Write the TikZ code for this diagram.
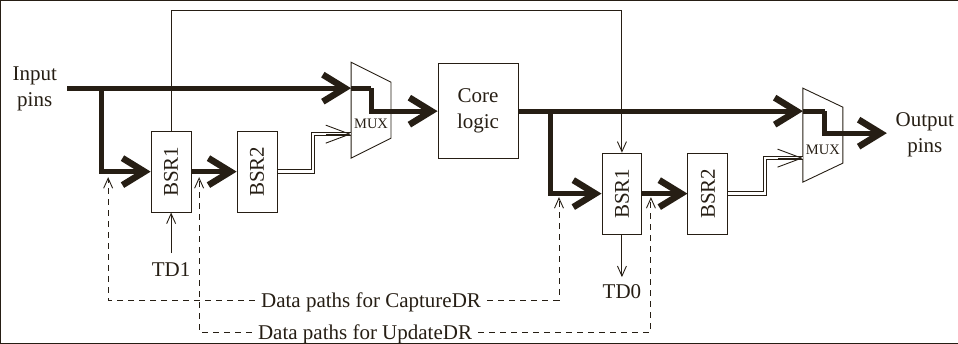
\documentclass[tikz,border=0pt]{standalone}
\usepackage{fontspec}
\setmainfont{Liberation Serif}
\usetikzlibrary{arrows.meta,calc}
\definecolor{ink}{RGB}{38,30,20}
\begin{document}
\begin{tikzpicture}[x=1pt,y=-1pt,
  every path/.style={draw=ink},
  lbl/.style={font=\fontsize{21}{26}\selectfont, text=ink, inner sep=0pt, align=center},
  blk/.style={draw=ink, line width=0.9pt, inner sep=0pt, minimum width=40pt, minimum height=81pt, font=\fontsize{21}{26}\selectfont, text=ink},
  muxlbl/.style={font=\fontsize{14.5}{16}\selectfont, text=ink, inner sep=0pt},
  dlbl/.style={font=\fontsize{21}{26}\selectfont, text=ink, inner ysep=0pt, inner xsep=6pt, text height=14pt, text depth=0pt},
  thk/.style={line width=5pt, -{Straight Barb[length=22pt,width=27pt,line width=6.5pt]}},
  thkplain/.style={line width=5pt},
  thn/.style={line width=0.9pt, -{Straight Barb[length=10pt,width=9pt,line width=0.9pt]}},
  thnplain/.style={line width=0.9pt},
  muxarr/.style={line width=0.9pt, -{Straight Barb[length=24pt,width=18pt,line width=0.9pt]}},
  dbl/.style={line width=0.9pt, double=white, double distance=2.6pt},
  dsh/.style={line width=0.9pt, dash pattern=on 6pt off 5pt, -{Straight Barb[length=10pt,width=9pt,line width=0.9pt]}}
]
\useasboundingbox (0,0) rectangle (958,343);

% labels
\node[lbl] (inp) at (34.5,89) {Input\\pins};
\node[lbl] (outp) at (925,135) {Output\\pins};

% blocks
\node[blk, align=center, minimum width=80pt, minimum height=95pt] (core) at (478,111) {Core\\logic};
\node[blk] (bsr1L) at (171,171.5) {\rotatebox{90}{BSR1}};
\node[blk] (bsr2L) at (257,171.5) {\rotatebox{90}{BSR2}};
\node[blk] (bsr1R) at (622,193.5) {\rotatebox{90}{BSR1}};
\node[blk] (bsr2R) at (708,193.5) {\rotatebox{90}{BSR2}};

% multiplexers
\coordinate (m1a) at (351,62);
\coordinate (m1b) at (391,82);
\coordinate (m1c) at (391,138);
\coordinate (m1d) at (351,158);
\draw[thnplain] (m1a) -- (m1b) -- (m1c) -- (m1d) -- cycle;
\node[muxlbl] (mux1) at (371,124) {MUX};
\coordinate (m2a) at (803,88);
\coordinate (m2b) at (843,107);
\coordinate (m2c) at (843,163);
\coordinate (m2d) at (803,182);
\draw[thnplain] (m2a) -- (m2b) -- (m2c) -- (m2d) -- cycle;
\node[muxlbl] (mux2) at (823,150) {MUX};

% coordinates
\coordinate (inS) at (67,88);
\coordinate (j1) at (101,88);
\coordinate (m1i1) at (351,88);
\coordinate (m1k1) at (371,88);
\coordinate (m1k2) at (371,111);
\coordinate (m1i2) at (351,134);
\coordinate (d1a) at (313,171.5);
\coordinate (d1b) at (313,134);
\coordinate (d1c) at (326,134);
\coordinate (j2) at (551,111);
\coordinate (m2i1) at (803,111);
\coordinate (m2k1) at (825,111);
\coordinate (m2k2) at (825,133);
\coordinate (outS) at (887,133);
\coordinate (m2i2) at (803,158);
\coordinate (d2a) at (765,193.5);
\coordinate (d2b) at (765,158);
\coordinate (d2c) at (778,158);
\coordinate (top1) at (171,10);
\coordinate (top2) at (622,10);

% thick data paths
\draw[thk] (inS) -- (m1i1);
\draw[thkplain] (m1i1) -- (m1k1);
\draw[thk] (m1k1) -- (m1k2) -- (core.west |- m1k2);
\draw[thk] (j1) |- (bsr1L.west);
\draw[thk] (bsr1L.east) -- (bsr2L.west);
\draw[thk] (core.east |- j2) -- (m2i1);
\draw[thkplain] (m2i1) -- (m2k1);
\draw[thk] (m2k1) -- (m2k2) -- (outS);
\draw[thk] (j2) |- (bsr1R.west);
\draw[thk] (bsr1R.east) -- (bsr2R.west);

% double lines to mux
\draw[dbl] (bsr2L.east) -- (d1a) -- (d1b) -- (m1i2);
\draw[muxarr] (d1c) -- (m1i2);
\draw[dbl] (bsr2R.east) -- (d2a) -- (d2b) -- (m2i2);
\draw[muxarr] (d2c) -- (m2i2);

% scan chain
\draw[thn] (bsr1L.north) -- (top1) -- (top2) -- (bsr1R.north);
\node[lbl] (td1) at (171,269) {TD1};
\coordinate (td1s) at (171,253);
\draw[thn] (td1s) -- (bsr1L.south);
\node[lbl] (td0) at (622,292) {TD0};
\coordinate (td0e) at (622,277);
\draw[thn] (bsr1R.south) -- (td0e);

% dashed data paths
\node[dlbl] (capt) at (371,300) {Data paths for CaptureDR};
\node[dlbl] (updt) at (365,332) {Data paths for UpdateDR};
\coordinate (cL) at (108,177);
\coordinate (cR) at (559,197);
\coordinate (uL) at (199,177);
\coordinate (uR) at (651,197);
\draw[dsh] (capt.west) -| (cL);
\draw[dsh] (capt.east) -| (cR);
\draw[dsh] (updt.west) -| (uL);
\draw[dsh] (updt.east) -| (uR);
\end{tikzpicture}
\end{document}
